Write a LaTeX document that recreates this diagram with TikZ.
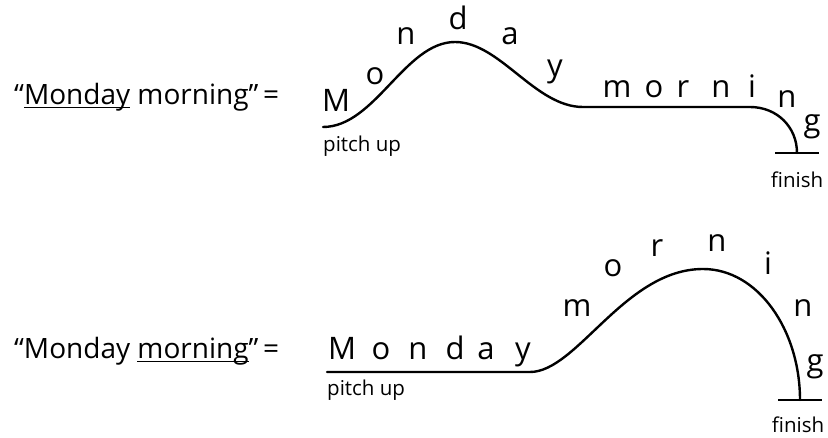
\documentclass[tikz,border=0pt]{standalone}
\usepackage{fontspec}
\setmainfont{Open Sans}
\newcommand{\myul}[1]{\setbox0\hbox{#1}\rlap{\rule[-3.5pt]{\wd0}{1.4pt}}#1}
\begin{document}
\begin{tikzpicture}[x=1pt,y=-1pt,
  lab/.style={anchor=base west,inner sep=0pt,font=\fontsize{28}{32}\selectfont},
  ch/.style={anchor=base,inner sep=0pt,font=\fontsize{31}{34}\selectfont},
  small/.style={inner sep=0pt,font=\fontsize{20.5}{23}\selectfont},
  curve/.style={line width=2.4pt,line cap=round},
  bar/.style={line width=2.6pt}]
\useasboundingbox (0,0) rectangle (828,438);
% ---------- top ----------
\node[lab] (lab1) at (14,105) {“\myul{Monday} morning”\,=};
\coordinate (a0) at (323,127);
\coordinate (a1) at (455,42);
\coordinate (a2) at (583,107);
\coordinate (a3) at (750,107);
\coordinate (a4) at (797,153);
\coordinate (f1l) at (775,153);
\coordinate (f1r) at (819,153);
\draw[curve] (a0) .. controls (375,127) and (405,42) .. (a1)
  .. controls (500,42) and (535,107) .. (a2) -- (a3)
  .. controls (777,107) and (797,127) .. (a4);
\draw[bar] (f1l) -- (f1r);
\node[ch] (t1) at (336,112) {M};
\node[ch] (t2) at (375,85) {o};
\node[ch] (t3) at (406,45) {n};
\node[ch] (t4) at (458,30) {d};
\node[ch] (t5) at (510,45) {a};
\node[ch] (t6) at (555,77) {y};
\node[ch] (t7) at (617,98) {m};
\node[ch] (t8) at (654,98) {o};
\node[ch] (t9) at (683,98) {r};
\node[ch] (t10) at (721,98) {n};
\node[ch] (t11) at (752,98) {i};
\node[ch] (t12) at (787,108) {n};
\node[ch] (t13) at (812,132) {g};
\node[small,anchor=base west] (p1) at (323,152) {pitch up};
\node[small,anchor=base] (fin1) at (797,188) {finish};
% ---------- bottom ----------
\node[lab] (lab2) at (14,359) {“Monday \myul{morning}”\,=};
\coordinate (b0) at (327,372);
\coordinate (b1) at (530,372);
\coordinate (b2) at (703,269);
\coordinate (b3) at (800,400);
\coordinate (f2l) at (778,400);
\coordinate (f2r) at (822,400);
\draw[curve] (b0) -- (b1)
  .. controls (577,372) and (625,269) .. (b2)
  .. controls (758,269) and (800,330) .. (b3);
\draw[bar] (f2l) -- (f2r);
\node[ch] (u1) at (342,360) {M};
\node[ch] (u2) at (381,360) {o};
\node[ch] (u3) at (418,360) {n};
\node[ch] (u4) at (455,360) {d};
\node[ch] (u5) at (486,360) {a};
\node[ch] (u6) at (523,360) {y};
\node[ch] (u7) at (577,317) {m};
\node[ch] (u8) at (613,277) {o};
\node[ch] (u9) at (657,257) {r};
\node[ch] (u10) at (717,252) {n};
\node[ch] (u11) at (768,275) {i};
\node[ch] (u12) at (803,317) {n};
\node[ch] (u13) at (815,372) {g};
\node[small,anchor=base west] (p2) at (327,396) {pitch up};
\node[small,anchor=base] (fin2) at (798,432) {finish};
\end{tikzpicture}
\end{document}
